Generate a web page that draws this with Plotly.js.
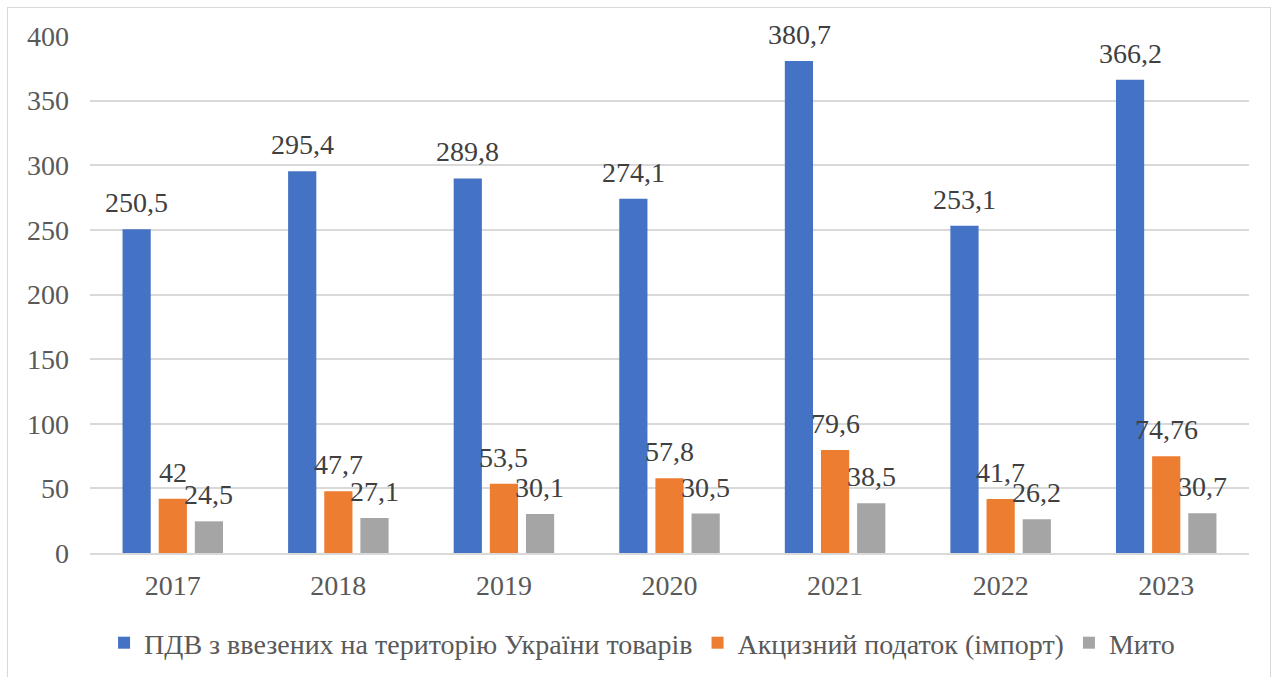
<!DOCTYPE html>
<html><head><meta charset="utf-8">
<script src="https://cdn.plot.ly/plotly-3.0.1.min.js"></script>
<style>
html,body{margin:0;padding:0;background:#fff;}
#wrap{position:relative;width:1279px;height:677px;}
#frame{position:absolute;left:7px;top:7px;width:1264px;height:680px;border:1px solid #d9d9d9;box-sizing:border-box;pointer-events:none;}
#chart{position:absolute;left:0;top:0;width:1279px;height:677px;}
</style></head>
<body><div id="wrap"><div id="frame"></div><div id="chart"></div></div>
<script>
const years = ['2017','2018','2019','2020','2021','2022','2023'];
const seriesNames = ['ПДВ з ввезених на територію України товарів','Акцизний податок (імпорт)','Мито'];
const vat = [250.5, 295.4, 289.8, 274.1, 380.7, 253.1, 366.2];
const excise = [42, 47.7, 53.5, 57.8, 79.6, 41.7, 74.76];
const duty = [24.5, 27.1, 30.1, 30.5, 38.5, 26.2, 30.7];
const colors = ['#4472C4','#ED7D31','#A5A5A5'];
const fontFam = 'Liberation Serif, Times New Roman, serif';
const fmt = v => String(v).replace('.', ',');
const allVals = [vat, excise, duty];
const traces = allVals.map((vals,i)=>({
  type:'bar', x:years, y:vals, name:seriesNames[i],
  marker:{color:colors[i]},
  hoverinfo:'skip'
}));
const slotPx = 36;
const annotations = [];
allVals.forEach((vals,i)=>{
  vals.forEach((v,j)=>{
    annotations.push({x:years.indexOf(years[j]), y:v, xref:'x', yref:'y', text:fmt(v), showarrow:false,
      xanchor:'center', yanchor:'bottom', xshift:(i-1)*slotPx, yshift:9,
      font:{family:fontFam, size:28, color:'#404040'}});
  });
});
const layout = {
  width:1279, height:677,
  margin:{l:90, r:30, t:36, b:124},
  paper_bgcolor:'rgba(0,0,0,0)', plot_bgcolor:'rgba(0,0,0,0)',
  barmode:'group', bargap:0.345, bargroupgap:0.22,
  font:{family:fontFam, size:28, color:'#595959'},
  xaxis:{type:'category', showgrid:false, showline:true, linecolor:'#d9d9d9', linewidth:2,
    ticks:'', ticklabelstandoff:6, tickfont:{family:fontFam,size:28,color:'#595959'}},
  yaxis:{range:[0,400], dtick:50, showgrid:true, gridcolor:'#d9d9d9', gridwidth:2,
    zeroline:false, showline:false, ticks:'', ticklabelstandoff:20,
    tickfont:{family:fontFam,size:28,color:'#595959'}},
  annotations: annotations,
  showlegend:true,
  legend:{orientation:'h', xref:'container', yref:'container', x:0.502, xanchor:'center',
    y:1-643/677, yanchor:'middle', font:{family:fontFam,size:28,color:'#595959'},
    itemwidth:30, traceorder:'normal'}
};
Plotly.newPlot('chart', traces, layout, {displayModeBar:false, staticPlot:true});
</script></body></html>
